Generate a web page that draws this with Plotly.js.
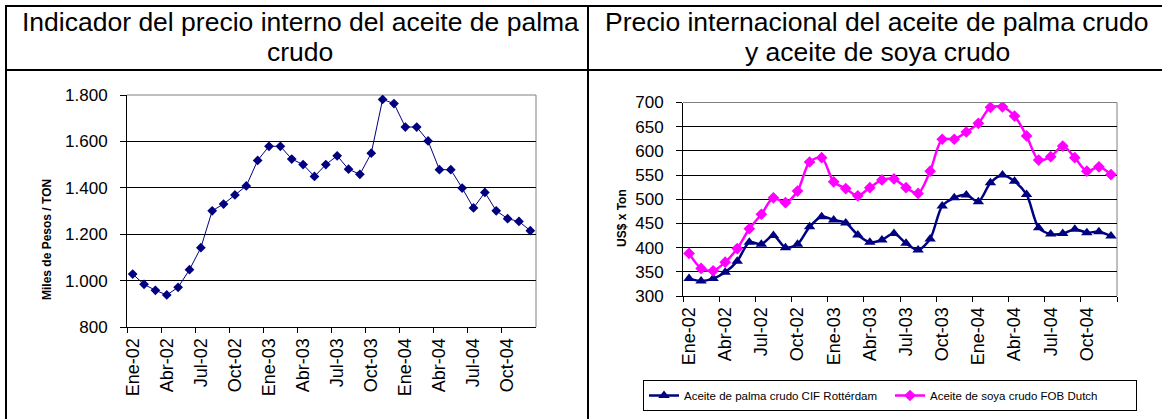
<!DOCTYPE html>
<html>
<head>
<meta charset="utf-8">
<script src="https://cdn.plot.ly/plotly-3.0.1.min.js"></script>
<style>html,body{margin:0;padding:0;background:#fff;}#chart{width:1162px;height:419px;}</style>
</head>
<body>
<div id="chart"></div>
<script>
// ---- data ----
var months = ["Ene-02","Feb-02","Mar-02","Abr-02","May-02","Jun-02","Jul-02","Ago-02","Sep-02","Oct-02","Nov-02","Dic-02",
              "Ene-03","Feb-03","Mar-03","Abr-03","May-03","Jun-03","Jul-03","Ago-03","Sep-03","Oct-03","Nov-03","Dic-03",
              "Ene-04","Feb-04","Mar-04","Abr-04","May-04","Jun-04","Jul-04","Ago-04","Sep-04","Oct-04","Nov-04","Dic-04"];
var precioInterno = [1028,984,958,938,971,1047,1142,1301,1330,1369,1408,1518,
                     1579,1579,1524,1500,1449,1500,1538,1480,1458,1549,1781,1763,
                     1662,1662,1602,1478,1478,1399,1313,1380,1301,1267,1255,1215];
var palmaCIF = [336,331,336,349,372,411,407,425,400,407,443,464,
                457,451,426,411,416,429,409,395,418,486,503,509,
                495,534,550,537,510,441,428,429,438,431,433,424];
var soyaFOB = [388,357,352,370,398,439,469,503,493,517,577,586,
               536,522,507,524,540,542,524,512,558,624,624,639,
               657,690,691,672,631,581,588,610,586,558,567,551];
var titleLeft = ["Indicador del precio interno del aceite de palma", "crudo"];
var titleRight = ["Precio internacional del aceite de palma crudo", "y aceite de soya crudo"];
var yTitleLeft = "Miles de Pesos / TON";
var yTitleRight = "US$ x Ton";
var seriesNames = ["Aceite de palma crudo CIF Rottérdam", "Aceite de soya crudo FOB Dutch"];

// ---- layout helpers ----
var W = 1162, H = 419;
function px(x){ return x / W; }
function py(y){ return 1 - y / H; }
var NAVY = "#000080", MAGENTA = "#FF00FF";
var FONT = "Liberation Sans, Arial, Helvetica, sans-serif";

var traces = [
  {x: months, y: precioInterno, xaxis: "x", yaxis: "y", type: "scatter", mode: "lines+markers",
   line: {color: NAVY, width: 1}, marker: {symbol: "diamond", size: 7.5, color: NAVY}, showlegend: false, hoverinfo: "x+y"},
  {x: months, y: palmaCIF, xaxis: "x2", yaxis: "y2", type: "scatter", mode: "lines+markers", name: seriesNames[0],
   line: {color: NAVY, width: 2.5, shape: "spline", smoothing: 0.8}, marker: {symbol: "triangle-up", size: 10, color: NAVY}},
  {x: months, y: soyaFOB, xaxis: "x2", yaxis: "y2", type: "scatter", mode: "lines+markers", name: seriesNames[1],
   line: {color: MAGENTA, width: 2.5, shape: "spline", smoothing: 0.8}, marker: {symbol: "diamond", size: 9, color: MAGENTA}}
];

function xAxis(domain, anchor){
  return {domain: domain, anchor: anchor, type: "category", range: [-0.5, 35.5],
    tickmode: "linear", tick0: 0, dtick: 3, tickson: "boundaries",
    ticks: "outside", ticklen: 5, tickcolor: "#000", tickwidth: 1,
    showline: true, linecolor: "#000", linewidth: 1, showgrid: false, zeroline: false,
    tickangle: -90, tickfont: {size: 18, color: "#000", family: FONT}, ticklabelstandoff: 3, fixedrange: true};
}
function yAxis(domain, anchor, range, dtick, fmt){
  return {domain: domain, anchor: anchor, range: range, dtick: dtick, tick0: range[0], tickformat: fmt,
    ticks: "outside", ticklen: 6, tickcolor: "#000", tickwidth: 1,
    showline: true, linecolor: "#000", linewidth: 1, showgrid: true, gridcolor: "#000", gridwidth: 1,
    zeroline: false, tickfont: {size: 17, color: "#000", family: FONT}, ticklabelstandoff: 9, fixedrange: true};
}

var frame = {color: "#000", width: 2};
var shapes = [
  {type: "line", xref: "paper", yref: "paper", x0: px(5), x1: 1, y0: py(6), y1: py(6), line: frame},
  {type: "line", xref: "paper", yref: "paper", x0: px(5), x1: 1, y0: py(70), y1: py(70), line: frame},
  {type: "line", xref: "paper", yref: "paper", x0: px(6), x1: px(6), y0: py(5), y1: 0, line: frame},
  {type: "line", xref: "paper", yref: "paper", x0: px(588), x1: px(588), y0: py(5), y1: 0, line: frame},
  // grey top/right plot borders
  {type: "line", xref: "x domain", yref: "y domain", x0: 0, x1: 1, y0: 1, y1: 1, line: {color: "#808080", width: 1}, layer: "below"},
  {type: "line", xref: "x domain", yref: "y domain", x0: 1, x1: 1, y0: 0, y1: 1, line: {color: "#808080", width: 1}, layer: "below"},
  {type: "line", xref: "x2 domain", yref: "y2 domain", x0: 0, x1: 1, y0: 1, y1: 1, line: {color: "#808080", width: 1}, layer: "below"},
  {type: "line", xref: "x2 domain", yref: "y2 domain", x0: 1, x1: 1, y0: 0, y1: 1, line: {color: "#808080", width: 1}, layer: "below"}
];

var tFont = {family: FONT, size: 26.5, color: "#000"};
var annotations = [
  {text: titleLeft[0], xref: "paper", yref: "paper", x: px(300), y: py(22), xanchor: "center", yanchor: "middle", showarrow: false, font: tFont},
  {text: titleLeft[1], xref: "paper", yref: "paper", x: px(300), y: py(52), xanchor: "center", yanchor: "middle", showarrow: false, font: tFont},
  {text: titleRight[0], xref: "paper", yref: "paper", x: px(877), y: py(22), xanchor: "center", yanchor: "middle", showarrow: false, font: tFont},
  {text: titleRight[1], xref: "paper", yref: "paper", x: px(877), y: py(52), xanchor: "center", yanchor: "middle", showarrow: false, font: tFont},
  {text: "<b>" + yTitleLeft + "</b>", xref: "paper", yref: "paper", x: px(47), y: py(240), xanchor: "center", yanchor: "middle",
   textangle: -90, showarrow: false, font: {family: FONT, size: 12, color: "#000"}},
  {text: "<b>" + yTitleRight + "</b>", xref: "paper", yref: "paper", x: px(622), y: py(218), xanchor: "center", yanchor: "middle",
   textangle: -90, showarrow: false, font: {family: FONT, size: 12, color: "#000"}}
];

var layout = {
  width: W, height: H, margin: {l: 0, r: 0, t: 0, b: 0},
  paper_bgcolor: "#fff", plot_bgcolor: "#fff", separators: ",.",
  font: {family: FONT, color: "#000"},
  xaxis: xAxis([px(127), px(536)], "y"),
  yaxis: yAxis([py(327), py(95)], "x", [800, 1800], 200, ",d"),
  xaxis2: xAxis([px(683), px(1117)], "y2"),
  yaxis2: yAxis([py(296), py(102.5)], "x2", [300, 700], 50, "d"),
  showlegend: true,
  legend: {orientation: "h", x: px(643), y: py(380), xanchor: "left", yanchor: "top",
    bordercolor: "#000", borderwidth: 1, bgcolor: "#fff", font: {family: FONT, size: 11.5, color: "#000"},
    traceorder: "normal", entrywidth: 201, entrywidthmode: "pixels", tracegroupgap: 0},
  shapes: shapes,
  annotations: annotations
};

Plotly.newPlot("chart", traces, layout, {displayModeBar: false, staticPlot: true});
</script>
</body>
</html>
